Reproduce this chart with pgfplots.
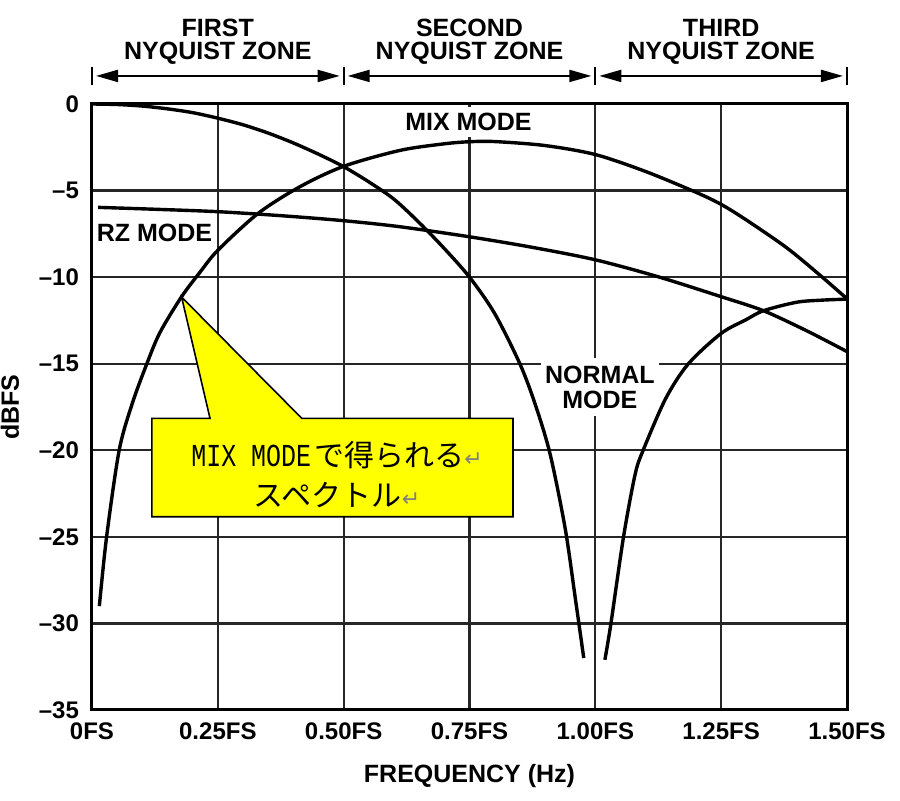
\documentclass[border=0pt]{standalone}
\usepackage{fontspec}
\setmainfont{Liberation Sans}
\newfontfamily\cjk{Noto Sans CJK JP}
\newfontfamily\gothmono[FakeStretch=0.78]{Liberation Mono}
\newfontfamily\dejavu{DejaVu Sans}
\usepackage{pgfplots}
\pgfplotsset{compat=1.18}
\usetikzlibrary{arrows.meta}
\definecolor{callout}{RGB}{255,255,0}
\tikzset{zonearrow/.style={line width=1pt, {Triangle[length=11pt,width=6pt]}-{Triangle[length=11pt,width=6pt]}},
  hdr/.style={font=\bfseries\fontsize{12.5}{15}\selectfont}}
\begin{document}
\begin{tikzpicture}
\path[use as bounding box] (-46pt,-45.5pt) rectangle (404pt,355pt);
\begin{axis}[
  scale only axis, width=377.5pt, height=303pt,
  xmin=0, xmax=1.5, ymin=-35, ymax=0,
  xtick={0,0.25,0.5,0.75,1,1.25,1.5},
  xticklabels={0FS,0.25FS,0.50FS,0.75FS,1.00FS,1.25FS,1.50FS},
  ytick={-35,-30,-25,-20,-15,-10,-5,0},
  yticklabels={–35,–30,–25,–20,–15,–10,–5,0},
  grid=major, major grid style={black!85, line width=1.1pt},
  major tick length=0pt,
  axis line style={line width=1.5pt},
  tick label style={font=\bfseries\fontsize{12}{14}\selectfont},
  xticklabel style={yshift=-3pt},
  yticklabel style={xshift=-3pt},
  xlabel={FREQUENCY (Hz)}, ylabel={dBFS},
  label style={font=\bfseries\fontsize{12.5}{15}\selectfont},
  xlabel style={at={(axis description cs:0.5,-0.109)},anchor=center},
  ylabel style={at={(axis description cs:-0.1086,0.5)},anchor=center},
  clip=false,
]
% curve labels (drawn first so that the white boxes only hide grid lines)
\node[hdr, fill=white, inner sep=3pt] at (axis cs:0.748,-1.04) {MIX MODE};
\node[hdr] at (axis cs:0.124,-7.45) {RZ MODE};
\node[font=\bfseries\fontsize{12.5}{12.5}\selectfont, fill=white, inner xsep=2pt,
  inner ysep=4pt, align=center] at (axis cs:1.009,-16.35) {NORMAL\\MODE};

% NORMAL MODE, first lobe
\addplot[black, line width=1.7pt, smooth, tension=0.5] coordinates {
(0,0) (0.05,-0.03) (0.1,-0.12) (0.15,-0.28) (0.2,-0.5) (0.25,-0.82) (0.3,-1.2)
(0.35,-1.68) (0.4,-2.25) (0.45,-2.9) (0.5,-3.62) (0.55,-4.5) (0.6,-5.5)
(0.65,-6.85) (0.7,-8.35) (0.75,-10.0) (0.8,-12.1) (0.85,-15.0) (0.88,-17.3)
(0.91,-20.2) (0.94,-24.5) (0.96,-28.5) (0.977,-32.0)};
% NORMAL MODE, second lobe
\addplot[black, line width=1.7pt, smooth, tension=0.5] coordinates {
(1.019,-32.1) (1.031,-30.0) (1.056,-25.0) (1.079,-21.4) (1.095,-20.0)
(1.14,-17.0) (1.185,-15.0) (1.25,-13.25) (1.30,-12.45) (1.334,-11.94)
(1.40,-11.45) (1.45,-11.33) (1.5,-11.27)};
% MIX MODE
\addplot[black, line width=1.7pt, smooth, tension=0.5] coordinates {
(0.0146,-29.0) (0.029,-25.0) (0.054,-20.0) (0.08,-17.3) (0.109,-15.0)
(0.135,-13.2) (0.178,-11.13) (0.215,-9.7) (0.25,-8.45) (0.33,-6.32)
(0.413,-4.78) (0.5,-3.6) (0.612,-2.68) (0.7,-2.3) (0.75,-2.18) (0.8,-2.17)
(0.9,-2.4) (1.0,-2.92) (1.1,-3.9) (1.2,-5.1) (1.25,-5.8) (1.3,-6.7)
(1.38,-8.3) (1.446,-9.88) (1.5,-11.25)};
% RZ MODE
\addplot[black, line width=1.7pt, smooth, tension=0.5] coordinates {
(0.012,-5.97) (0.125,-6.08) (0.25,-6.22) (0.375,-6.45) (0.5,-6.74)
(0.612,-7.09) (0.75,-7.67) (0.875,-8.28) (1.0,-9.0) (1.125,-9.98)
(1.25,-11.13) (1.334,-11.94) (1.42,-13.1) (1.5,-14.3)};

% callout
\draw[fill=callout, line width=0.8pt, line join=miter]
  (axis cs:0.119,-18.16) -- (axis cs:0.2345,-18.16) -- (axis cs:0.178,-11.15)
  -- (axis cs:0.417,-18.16) -- (axis cs:0.8365,-18.16) -- (axis cs:0.8365,-23.84)
  -- (axis cs:0.119,-23.84) -- cycle;
\node[align=center, inner sep=0pt] at (axis cs:0.487,-20.3)
  {{\gothmono\fontsize{16}{20}\selectfont MIX MODE}\,{\cjk\fontsize{15}{20}\selectfont で得られる}{\dejavu\fontsize{11}{20}\selectfont\color{gray}↵}};
\node[align=center, inner sep=0pt] at (axis cs:0.487,-22.6)
  {{\cjk\fontsize{15}{20}\selectfont スペクトル}{\dejavu\fontsize{11}{20}\selectfont\color{gray}↵}};

% Nyquist zone header
\draw[zonearrow] (axis cs:0.008,1.62) -- (axis cs:0.492,1.62);
\draw[zonearrow] (axis cs:0.508,1.62) -- (axis cs:0.992,1.62);
\draw[zonearrow] (axis cs:1.008,1.62) -- (axis cs:1.492,1.62);
\draw[line width=1pt] (axis cs:0,1.10) -- (axis cs:0,2.14);
\draw[line width=1pt] (axis cs:0.5,1.10) -- (axis cs:0.5,2.14);
\draw[line width=1pt] (axis cs:1,1.10) -- (axis cs:1,2.14);
\draw[line width=1pt] (axis cs:1.5,1.10) -- (axis cs:1.5,2.14);
\node[hdr] at (axis cs:0.25,4.39) {FIRST};
\node[hdr] at (axis cs:0.25,2.95) {NYQUIST ZONE};
\node[hdr] at (axis cs:0.75,4.39) {SECOND};
\node[hdr] at (axis cs:0.75,2.95) {NYQUIST ZONE};
\node[hdr] at (axis cs:1.25,4.39) {THIRD};
\node[hdr] at (axis cs:1.25,2.95) {NYQUIST ZONE};
\end{axis}
\end{tikzpicture}
\end{document}
